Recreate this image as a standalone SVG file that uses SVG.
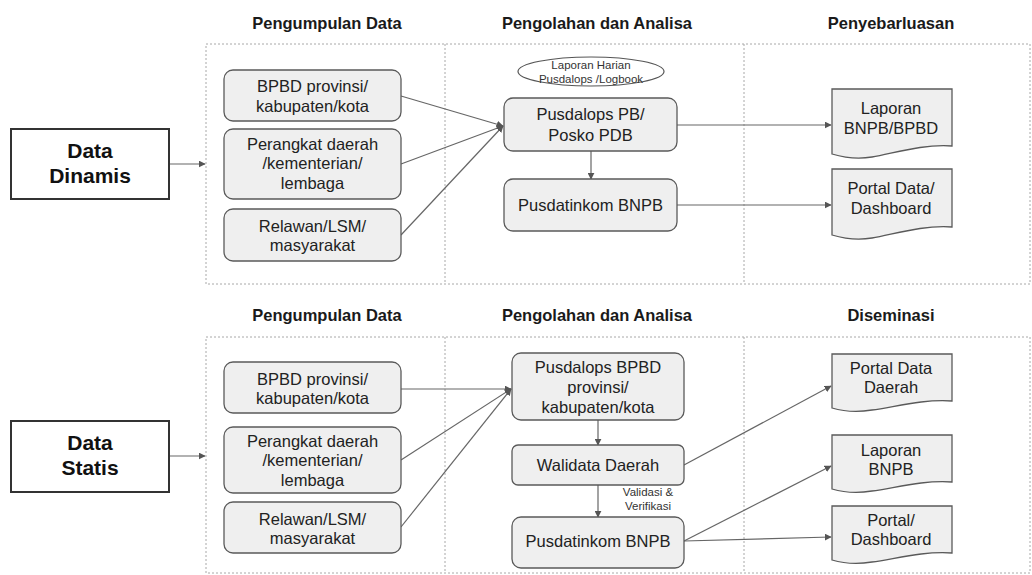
<svg xmlns="http://www.w3.org/2000/svg" width="1032" height="575" viewBox="0 0 1032 575">
<defs>
<marker id="ah" viewBox="0 0 10 10" refX="9" refY="5" markerWidth="7" markerHeight="7" markerUnits="userSpaceOnUse" orient="auto">
<path d="M0,0 L10,5 L0,10 Z" fill="#555"/>
</marker>
<style>
.panel{fill:none;stroke:#a8a8a8;stroke-width:1;stroke-dasharray:2,2}
.div{stroke:#a8a8a8;stroke-width:1;stroke-dasharray:2,2}
.hdr{font-family:"Liberation Sans",Arial,sans-serif;font-weight:bold;font-size:16.5px;fill:#1a1a1a;text-anchor:middle}
.big{fill:#fff;stroke:#333;stroke-width:2}
.bigt{font-family:"Liberation Sans",Arial,sans-serif;font-weight:bold;font-size:21px;fill:#111;text-anchor:middle}
.box{fill:#efefef;stroke:#5a5a5a;stroke-width:1.3}
.doc{fill:#efefef;stroke:#5a5a5a;stroke-width:1.3}
.t{font-family:"Liberation Sans",Arial,sans-serif;font-size:16.5px;fill:#222;text-anchor:middle}
.s{font-family:"Liberation Sans",Arial,sans-serif;font-size:11.5px;fill:#333;text-anchor:middle}
.c{fill:none;stroke:#666;stroke-width:1.2;marker-end:url(#ah)}
</style>
</defs>
<rect width="1032" height="575" fill="#fff"/>

<g id="panels">
<rect class="panel" x="206" y="44" width="824" height="240"/>
<line class="div" x1="445" y1="44" x2="445" y2="284"/>
<line class="div" x1="744" y1="44" x2="744" y2="284"/>
<rect class="panel" x="206" y="337" width="824" height="236"/>
<line class="div" x1="445" y1="337" x2="445" y2="573"/>
<line class="div" x1="744" y1="337" x2="744" y2="573"/>
</g>

<g id="headers">
<text class="hdr" x="327" y="29">Pengumpulan Data</text>
<text class="hdr" x="597" y="29">Pengolahan dan Analisa</text>
<text class="hdr" x="891" y="29">Penyebarluasan</text>
<text class="hdr" x="327" y="321">Pengumpulan Data</text>
<text class="hdr" x="597" y="321">Pengolahan dan Analisa</text>
<text class="hdr" x="891" y="321">Diseminasi</text>
</g>

<g id="connectors">
<line class="c" x1="169" y1="164" x2="205" y2="164"/>
<line class="c" x1="401" y1="96" x2="503" y2="126"/>
<line class="c" x1="401" y1="164" x2="503" y2="126"/>
<line class="c" x1="401" y1="235" x2="503" y2="126"/>
<line class="c" x1="591" y1="151" x2="591" y2="179"/>
<line class="c" x1="677" y1="125" x2="831" y2="125"/>
<line class="c" x1="677" y1="205" x2="831" y2="205"/>
<line class="c" x1="169" y1="456" x2="205" y2="456"/>
<line class="c" x1="401" y1="389" x2="511" y2="389"/>
<line class="c" x1="401" y1="460" x2="511" y2="389"/>
<line class="c" x1="401" y1="527" x2="511" y2="389"/>
<line class="c" x1="598" y1="420" x2="598" y2="445"/>
<line class="c" x1="598" y1="485" x2="598" y2="517"/>
<line class="c" x1="684" y1="465" x2="831" y2="386"/>
<line class="c" x1="684" y1="541" x2="831" y2="466"/>
<line class="c" x1="684" y1="541" x2="831" y2="537"/>
</g>

<g id="data-dinamis">
<rect class="big" x="11" y="129" width="158" height="70"/>
<text class="bigt" x="90" y="158">Data</text>
<text class="bigt" x="90" y="183">Dinamis</text>
</g>
<g id="bpbd1">
<rect class="box" x="224" y="70" width="177" height="51" rx="9"/>
<text class="t" x="312.5" y="92">BPBD provinsi/</text>
<text class="t" x="312.5" y="112">kabupaten/kota</text>
</g>
<g id="perangkat1">
<rect class="box" x="224" y="129" width="177" height="70" rx="9"/>
<text class="t" x="312.5" y="150">Perangkat daerah</text>
<text class="t" x="312.5" y="169">/kementerian/</text>
<text class="t" x="312.5" y="189">lembaga</text>
</g>
<g id="relawan1">
<rect class="box" x="224" y="209" width="177" height="52" rx="9"/>
<text class="t" x="312.5" y="232">Relawan/LSM/</text>
<text class="t" x="312.5" y="251">masyarakat</text>
</g>
<g id="laporan-harian">
<ellipse cx="591" cy="71.5" rx="73" ry="14.5" fill="#fff" stroke="#555" stroke-width="1.2"/>
<text class="s" x="591" y="69">Laporan Harian</text>
<text class="s" x="591" y="83">Pusdalops /Logbook</text>
</g>
<g id="pusdalops-pb">
<rect class="box" x="504" y="98" width="173" height="53" rx="9"/>
<text class="t" x="590.5" y="120">Pusdalops PB/</text>
<text class="t" x="590.5" y="141">Posko PDB</text>
</g>
<g id="pusdatinkom1">
<rect class="box" x="504" y="179" width="173" height="52" rx="9"/>
<text class="t" x="590.5" y="211">Pusdatinkom BNPB</text>
</g>
<g id="laporan-bnpb-bpbd">
<path class="doc" d="M832,89 H952 V146 C922,144 895,153 872,157 C855,160 842,157 832,154 Z"/>
<text class="t" x="891" y="114">Laporan</text>
<text class="t" x="891" y="134">BNPB/BPBD</text>
</g>
<g id="portal-dashboard1">
<path class="doc" d="M832,169 H952 V227 C922,225 895,234 872,238 C855,241 842,238 832,235 Z"/>
<text class="t" x="891" y="194">Portal Data/</text>
<text class="t" x="891" y="214">Dashboard</text>
</g>

<g id="data-statis">
<rect class="big" x="11" y="421" width="158" height="71"/>
<text class="bigt" x="90" y="450">Data</text>
<text class="bigt" x="90" y="475">Statis</text>
</g>
<g id="bpbd2">
<rect class="box" x="224" y="362" width="177" height="51" rx="9"/>
<text class="t" x="312.5" y="385">BPBD provinsi/</text>
<text class="t" x="312.5" y="404">kabupaten/kota</text>
</g>
<g id="perangkat2">
<rect class="box" x="224" y="427" width="177" height="66" rx="9"/>
<text class="t" x="312.5" y="447">Perangkat daerah</text>
<text class="t" x="312.5" y="466">/kementerian/</text>
<text class="t" x="312.5" y="486">lembaga</text>
</g>
<g id="relawan2">
<rect class="box" x="224" y="502" width="177" height="51" rx="9"/>
<text class="t" x="312.5" y="525">Relawan/LSM/</text>
<text class="t" x="312.5" y="544">masyarakat</text>
</g>
<g id="pusdalops-bpbd">
<rect class="box" x="512" y="353" width="172" height="67" rx="9"/>
<text class="t" x="598" y="373">Pusdalops BPBD</text>
<text class="t" x="598" y="393">provinsi/</text>
<text class="t" x="598" y="413">kabupaten/kota</text>
</g>
<g id="walidata">
<rect class="box" x="512" y="445" width="172" height="40" rx="6"/>
<text class="t" x="598" y="471">Walidata Daerah</text>
</g>
<g id="validasi-label">
<text class="s" x="648" y="496">Validasi &amp;</text>
<text class="s" x="648" y="510">Verifikasi</text>
</g>
<g id="pusdatinkom2">
<rect class="box" x="512" y="517" width="172" height="51" rx="9"/>
<text class="t" x="598" y="547">Pusdatinkom BNPB</text>
</g>
<g id="portal-data-daerah">
<path class="doc" d="M832,354 H952 V401 C922,399 895,407 872,410 C855,413 842,411 832,408 Z"/>
<text class="t" x="891" y="374">Portal Data</text>
<text class="t" x="891" y="393">Daerah</text>
</g>
<g id="laporan-bnpb">
<path class="doc" d="M832,435 H952 V482 C922,480 895,488 872,491 C855,494 842,492 832,489 Z"/>
<text class="t" x="891" y="456">Laporan</text>
<text class="t" x="891" y="475">BNPB</text>
</g>
<g id="portal-dashboard2">
<path class="doc" d="M832,506 H952 V553 C922,551 895,559 872,562 C855,565 842,563 832,560 Z"/>
<text class="t" x="891" y="526">Portal/</text>
<text class="t" x="891" y="545">Dashboard</text>
</g>
</svg>
